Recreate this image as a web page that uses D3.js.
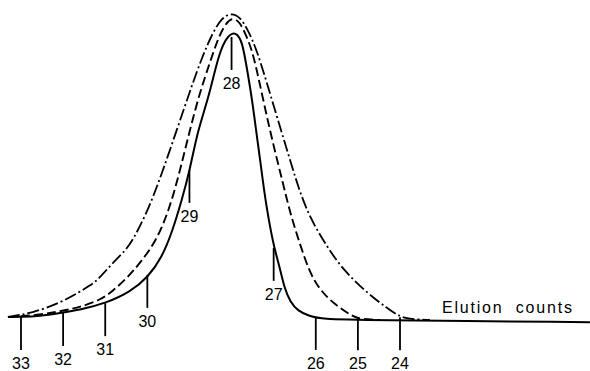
<!DOCTYPE html>
<html>
<head>
<meta charset="utf-8">
<script src="https://cdn.jsdelivr.net/npm/d3@7"></script>
<style>
  html, body { margin: 0; padding: 0; background: #fff; }
  svg { display: block; }
  text { font-family: "Liberation Sans", Arial, sans-serif; fill: #000; }
</style>
</head>
<body>
<svg id="chart" width="590" height="371"></svg>
<script>
// Elution count marks along the solid curve
const markCounts = [33, 32, 31, 30, 29, 28, 27, 26, 25, 24];
const markLabels = ["33", "32", "31", "30", "29", "28", "27", "26", "25", "24"];
// relative height of the solid curve where each mark starts
const markHeights = [1.0, 2.3, 5.5, 14.7, 48.9, 92.2, 23.5, 1.0, 0.9, 0.9];

// solid curve
const solidCount = [33.31, 33.00, 32.55, 32.07, 31.60, 30.98, 30.41, 29.98, 29.65, 29.41, 29.18, 28.99, 28.80, 28.56, 28.35, 28.20, 28.08, 27.97, 27.87, 27.75, 27.66, 27.51, 27.42, 27.32, 27.23, 27.13, 26.99, 26.85, 26.75, 26.61, 26.42, 26.16, 25.83, 24.95, 19.49];
const solidHeight = [1.0, 1.0, 1.3, 2.3, 3.3, 5.5, 9.1, 14.0, 20.5, 28.7, 39.1, 48.9, 61.9, 71.7, 84.0, 89.9, 92.5, 93.5, 93.2, 90.6, 84.0, 71.7, 61.9, 52.1, 42.3, 33.6, 23.5, 16.9, 10.7, 5.9, 2.9, 1.3, 0.3, 0, -0.7];

// dashed curve
const dashedCount = [33.31, 32.55, 31.91, 31.60, 31.12, 30.82, 30.46, 30.17, 29.77, 29.46, 29.22, 28.99, 28.75, 28.51, 28.35, 28.18, 27.99, 27.80, 27.66, 27.49, 27.25, 27.02, 26.78, 26.61, 26.37, 26.14, 25.90, 25.59, 25.12, 24.90, 24.47];
const dashedHeight = [1.0, 1.6, 3.3, 4.2, 6.5, 9.4, 14.0, 18.6, 26.1, 36.8, 48.9, 61.9, 74.3, 84.0, 90.6, 95.8, 98.7, 97.1, 92.8, 87.3, 71.7, 57.7, 44.6, 34.9, 24.4, 15.3, 9.8, 5.5, 1.0, 0.3, 0];

// dash-dot curve
const dashDotCount = [33.31, 32.72, 32.00, 31.29, 31.12, 30.82, 30.51, 30.34, 29.98, 29.65, 29.30, 28.94, 28.68, 28.44, 28.23, 28.01, 27.80, 27.61, 27.40, 27.16, 26.92, 26.66, 26.42, 26.14, 25.73, 25.35, 24.78, 24.31, 24.00, 23.76, 23.29];
const dashDotHeight = [1.0, 2.3, 5.9, 11.7, 14.0, 18.6, 22.8, 26.1, 35.8, 47.9, 61.9, 76.5, 86.3, 93.8, 98.4, 100, 98.7, 94.5, 87.9, 77.2, 66.1, 54.4, 43.3, 33.2, 23.8, 16.3, 8.8, 3.9, 1.0, 0.3, 0];

const axisTitle = "Elution counts";

const svg = d3.select("#chart");
const x = d3.scaleLinear().domain([33, 24]).range([21, 400]);
const y = d3.scaleLinear().domain([0, 100]).range([320, 13]);

const line = d3.line()
  .x(d => x(d[0]))
  .y(d => y(d[1]))
  .curve(d3.curveBasis);

svg.append("path")
  .datum(d3.zip(dashDotCount, dashDotHeight))
  .attr("d", line)
  .attr("fill", "none")
  .attr("stroke", "#000")
  .attr("stroke-width", 1.8)
  .attr("stroke-dasharray", "12,3,2,3");

svg.append("path")
  .datum(d3.zip(dashedCount, dashedHeight))
  .attr("d", line)
  .attr("fill", "none")
  .attr("stroke", "#000")
  .attr("stroke-width", 1.9)
  .attr("stroke-dasharray", "9,4");

svg.append("path")
  .datum(d3.zip(solidCount, solidHeight))
  .attr("d", line)
  .attr("fill", "none")
  .attr("stroke", "#000")
  .attr("stroke-width", 2);

const tickLen = 33;
const marks = svg.append("g")
  .selectAll("g")
  .data(d3.zip(markCounts, markHeights, markLabels))
  .join("g");

marks.append("line")
  .attr("x1", d => x(d[0]))
  .attr("x2", d => x(d[0]))
  .attr("y1", d => y(d[1]))
  .attr("y2", d => y(d[1]) + tickLen)
  .attr("stroke", "#000")
  .attr("stroke-width", 1.8);

marks.append("text")
  .attr("x", d => x(d[0]))
  .attr("y", d => y(d[1]) + tickLen + 19)
  .attr("text-anchor", "middle")
  .attr("font-size", 16)
  .text(d => d[2]);

svg.append("text")
  .attr("x", 442)
  .attr("y", 313)
  .attr("font-size", 16)
  .attr("letter-spacing", "1.8px")
  .attr("word-spacing", "6px")
  .text(axisTitle);
</script>
</body>
</html>
